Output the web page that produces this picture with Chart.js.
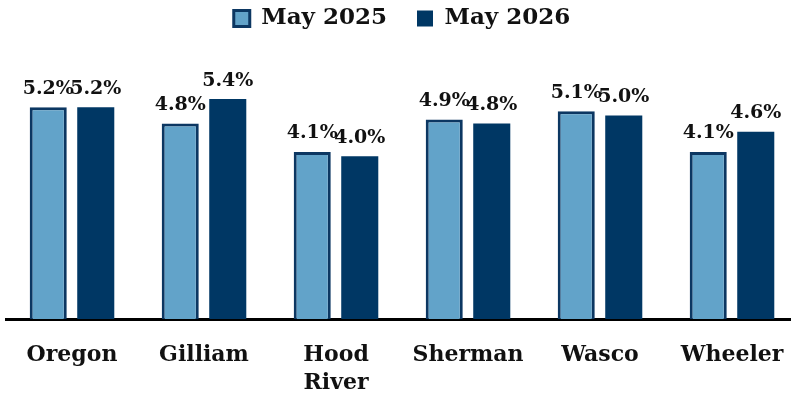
<!DOCTYPE html>
<html>
<head>
<meta charset="utf-8">
<script src="https://cdn.jsdelivr.net/npm/chart.js@4/dist/chart.umd.min.js"></script>
<style>
html,body{margin:0;padding:0;background:#fff;overflow:hidden;}
#wrap{width:800px;height:400px;}
</style>
</head>
<body>
<div id="wrap"><canvas id="c" width="800" height="400"></canvas></div>
<script>
const categories = [["Oregon"], ["Gilliam"], ["Hood", "River"], ["Sherman"], ["Wasco"], ["Wheeler"]];
const seriesNames = ["May 2025", "May 2026"];
const may2025 = [5.2, 4.8, 4.1, 4.9, 5.1, 4.1];
const may2026 = [5.2, 5.4, 4.0, 4.8, 5.0, 4.6];

const FONT = "'DejaVu Serif', serif";

const labelPlugin = {
  id: 'valueLabels',
  afterDatasetsDraw(chart) {
    const ctx = chart.ctx;
    ctx.save();
    ctx.font = "bold 19px " + FONT;
    ctx.fillStyle = '#111';
    ctx.textAlign = 'center';
    ctx.textBaseline = 'bottom';
    chart.data.datasets.forEach((ds, i) => {
      const meta = chart.getDatasetMeta(i);
      meta.data.forEach((el, j) => {
        ctx.fillText(ds.data[j].toFixed(1) + '%', el.x, el.y - 9);
      });
    });
    ctx.restore();
  }
};

new Chart(document.getElementById('c'), {
  type: 'bar',
  data: {
    labels: categories,
    datasets: [
      {
        label: seriesNames[0],
        data: may2025,
        backgroundColor: '#62a3c9',
        borderColor: '#0c3762',
        borderWidth: 3,
        borderSkipped: 'bottom'
      },
      {
        label: seriesNames[1],
        data: may2026,
        backgroundColor: '#003764',
        borderColor: '#003764',
        borderWidth: 0
      }
    ]
  },
  options: {
    responsive: false,
    animation: false,
    devicePixelRatio: 1,
    categoryPercentage: 0.72,
    barPercentage: 0.78,
    layout: { padding: { left: 6, right: 2, top: -23, bottom: -11 } },
    plugins: {
      legend: {
        display: true,
        position: 'top',
        labels: {
          font: { family: FONT, size: 23, weight: 'bold' },
          color: '#111',
          boxWidth: 16,
          boxHeight: 16,
          padding: 30
        }
      },
      tooltip: { enabled: false }
    },
    scales: {
      x: {
        grid: { display: false },
        border: { display: true, color: '#000', width: 3 },
        ticks: {
          font: { family: FONT, size: 22, weight: 'bold', lineHeight: 1.27 },
          color: '#111',
          padding: 14,
          maxRotation: 0,
          autoSkip: false
        }
      },
      y: {
        display: false,
        min: 0,
        max: 6.85
      }
    }
  },
  plugins: [labelPlugin]
});
</script>
</body>
</html>
